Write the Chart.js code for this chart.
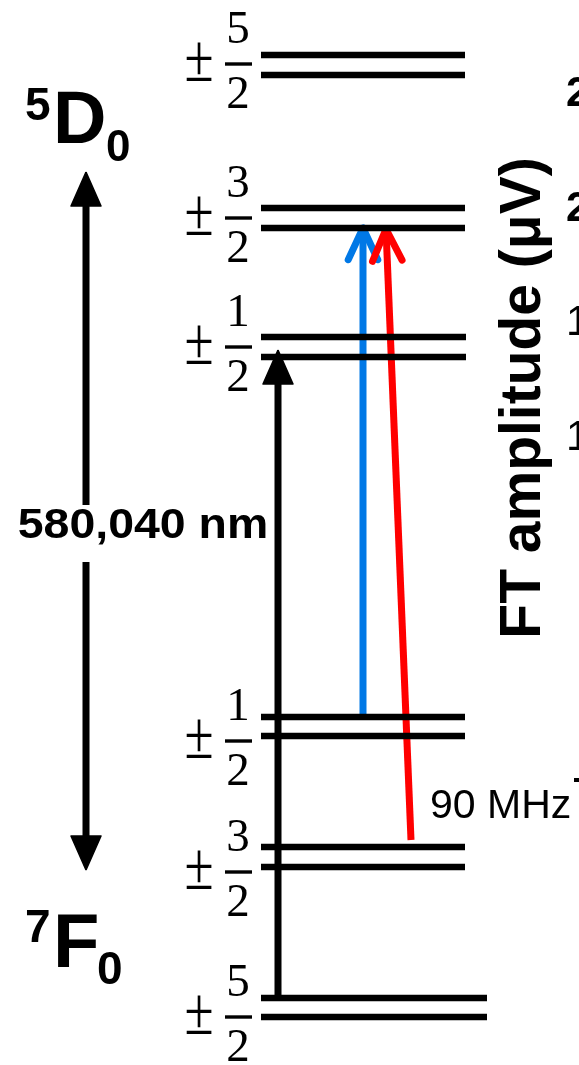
<!DOCTYPE html>
<html><head><meta charset="utf-8">
<script src="https://cdn.jsdelivr.net/npm/chart.js@4.4.1/dist/chart.umd.min.js"></script>
<style>html,body{margin:0;padding:0;background:#fff;overflow:hidden}#wrap{width:579px;height:1065px;position:relative}</style>
</head><body><div id="wrap"><canvas id="c" width="579" height="1065"></canvas></div>
<script>
// ---- DATA (diagram units: x 0..579 left->right, y 0..1065 bottom->top) ----
const levelNames   = ['5D0 ±5/2','5D0 ±3/2','5D0 ±1/2','7F0 ±1/2','7F0 ±3/2','7F0 ±5/2'];
const levelUpperY  = [1010, 857, 728, 348, 218, 67];
const levelLowerY  = [990, 837, 708, 329, 198, 48];
const levelStartX  = [261, 261, 261, 261, 261, 261];
const levelEndX    = [465, 465, 466, 465, 465, 487];
const fracNum      = ['5','3','1','1','3','5'];
const fracDen      = ['2','2','2','2','2','2'];
const fracBarY     = [1001, 847, 718, 324, 193, 48];

const arrowNames   = ['pump','probeBlue','probeRed'];
const arrowFromX   = [278, 363, 411];
const arrowFromY   = [67, 348, 225];
const arrowToX     = [278, 363, 386];
const arrowToY     = [715, 837, 836];

const transitionX      = 86;
const transitionTopY   = 893;
const transitionBotY   = 195;
const transitionGapTop = 560;
const transitionGapBot = 503;

const axisTickLabels = ['2','2','1','1'];

// ---- styles ----
const LEVEL_W = 6.5, ARROW_W = 7;
const arrowColors = ['#000000','#0078E6','#FF0000'];
const arrowHeadStyle = ['filled','open','open'];
const arrowOrder = [3, 2, 1];

const datasets = [];
for (let i = 0; i < levelNames.length; i++) {
  for (const y of [levelUpperY[i], levelLowerY[i]]) {
    datasets.push({label: levelNames[i], data: [{x: levelStartX[i], y}, {x: levelEndX[i], y}],
      showLine: true, borderColor: '#000', borderWidth: LEVEL_W, pointRadius: 0, borderCapStyle: 'butt', order: 0});
  }
}
function addFilledHead(tx, ty, dirx, diry, len, half, order) {
  const bx = tx - dirx * len, by = ty - diry * len;
  const nx = -diry, ny = dirx;
  datasets.push({data: [{x: tx, y: ty}, {x: bx + nx * half, y: by + ny * half}, {x: bx - nx * half, y: by - ny * half}, {x: tx, y: ty}],
    showLine: true, fill: 'shape', backgroundColor: '#000', borderColor: '#000', borderWidth: 1.5, borderJoinStyle: 'round', pointRadius: 0, order});
}
for (let i = 0; i < arrowNames.length; i++) {
  const fx = arrowFromX[i], fy = arrowFromY[i], tx = arrowToX[i], ty = arrowToY[i];
  const L = Math.hypot(tx - fx, ty - fy), dx = (tx - fx) / L, dy = (ty - fy) / L;
  const col = arrowColors[i], ord = arrowOrder[i];
  if (arrowHeadStyle[i] === 'filled') {
    datasets.push({data: [{x: fx, y: fy}, {x: tx - dx * 20, y: ty - dy * 20}], showLine: true, borderColor: col, borderWidth: ARROW_W, pointRadius: 0, order: ord});
    addFilledHead(tx, ty, dx, dy, 34, 15, ord);
  } else {
    datasets.push({data: [{x: fx, y: fy}, {x: tx - dx * 3, y: ty - dy * 3}], showLine: true, borderColor: col, borderWidth: ARROW_W, pointRadius: 0, order: ord});
    const a = 25 * Math.PI / 180, len = 35;
    const c = Math.cos(a), s = Math.sin(a);
    const l1 = {x: tx - len * (dx * c - dy * s), y: ty - len * (dy * c + dx * s)};
    const l2 = {x: tx - len * (dx * c + dy * s), y: ty - len * (dy * c - dx * s)};
    datasets.push({data: [l1, {x: tx, y: ty}, l2], showLine: true, borderColor: col, borderWidth: ARROW_W,
      borderCapStyle: 'round', borderJoinStyle: 'round', pointRadius: 0, order: ord});
  }
}
// double-headed transition arrow
datasets.push({data: [{x: transitionX, y: transitionGapTop}, {x: transitionX, y: transitionTopY - 20}], showLine: true, borderColor: '#000', borderWidth: ARROW_W, pointRadius: 0, order: 4});
datasets.push({data: [{x: transitionX, y: transitionGapBot}, {x: transitionX, y: transitionBotY + 20}], showLine: true, borderColor: '#000', borderWidth: ARROW_W, pointRadius: 0, order: 4});
addFilledHead(transitionX, transitionTopY, 0, 1, 34, 15, 4);
addFilledHead(transitionX, transitionBotY, 0, -1, 34, 15, 4);

function txt(ctx, s, x, y, font, align, sx) {
  ctx.save();
  ctx.font = font; ctx.textAlign = align || 'left'; ctx.textBaseline = 'alphabetic';
  ctx.translate(x, y); ctx.scale(sx || 1, 1);
  ctx.fillText(s, 0, 0);
  ctx.restore();
}
const labelsPlugin = {
  id: 'labels',
  afterDatasetsDraw(chart) {
    const ctx = chart.ctx, sx = chart.scales.x, sy = chart.scales.y;
    const px = v => sx.getPixelForValue(v), py = v => sy.getPixelForValue(v);
    ctx.save();
    ctx.fillStyle = '#000';
    const SANS = '"Liberation Sans", Arial, sans-serif';
    const SERIF = '"Liberation Serif", "Times New Roman", serif';
    // fractions
    for (let i = 0; i < fracNum.length; i++) {
      const yb = py(fracBarY[i]);
      txt(ctx, '±', 199, yb + 17, '68px ' + SERIF, 'center', 0.78);
      ctx.fillRect(px(225), yb - 1.7, 27, 3.4);
      txt(ctx, fracNum[i], px(238), yb - 21, '47px ' + SERIF, 'center');
      txt(ctx, fracDen[i], px(238), yb + 44, '47px ' + SERIF, 'center');
    }
    // term symbols
    txt(ctx, '5', 25, 120, 'bold 46px ' + SANS);
    txt(ctx, 'D', 53, 143, 'bold 74px ' + SANS);
    txt(ctx, '0', 106, 161, 'bold 44px ' + SANS);
    txt(ctx, '7', 25, 942, 'bold 46px ' + SANS);
    txt(ctx, 'F', 53, 967, 'bold 76px ' + SANS);
    txt(ctx, '0', 97, 984, 'bold 46px ' + SANS);
    // transition wavelength
    txt(ctx, '580,040 nm', 143, 538, 'bold 43px ' + SANS, 'center', 1.08);
    // splitting label
    txt(ctx, '90 MHz', 430, 818, '41px ' + SANS, 'left');
    // cropped neighbouring axis
    ctx.save();
    ctx.translate(540, 398); ctx.rotate(-Math.PI / 2);
    ctx.font = 'bold 57px ' + SANS; ctx.textAlign = 'center'; ctx.textBaseline = 'alphabetic';
    ctx.fillText('FT amplitude (μV)', 0, 0);
    ctx.restore();
    const tickY = [106, 221, 335, 450];
    for (let i = 0; i < axisTickLabels.length; i++) {
      txt(ctx, axisTickLabels[i], 566, tickY[i], (i < 2 ? 'bold ' : '') + '42px ' + SANS);
    }
    ctx.fillRect(574, 778, 5, 4);
    ctx.restore();
  }
};

new Chart(document.getElementById('c'), {
  type: 'scatter',
  data: {datasets},
  options: {
    responsive: false, animation: false, devicePixelRatio: 1,
    layout: {padding: 0},
    plugins: {legend: {display: false}, tooltip: {enabled: false}},
    scales: {
      x: {type: 'linear', min: 0, max: 579, display: false},
      y: {type: 'linear', min: 0, max: 1065, display: false}
    }
  },
  plugins: [labelsPlugin]
});
</script></body></html>
